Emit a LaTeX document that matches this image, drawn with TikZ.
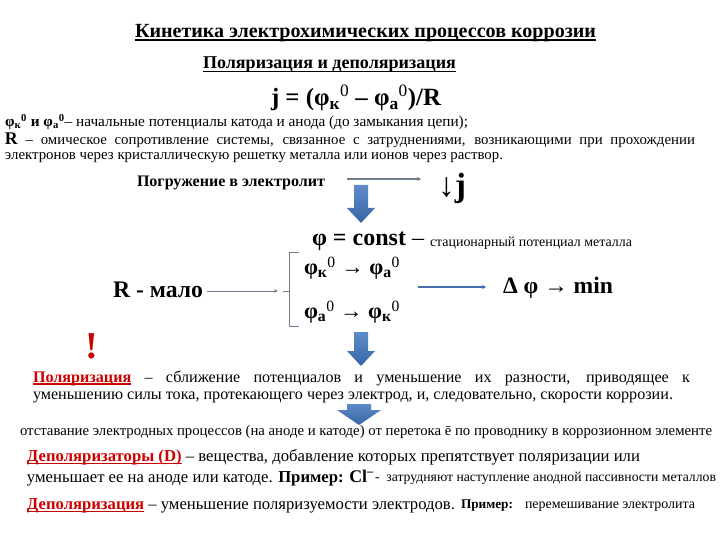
\documentclass[tikz,border=0pt]{standalone}
\usepackage{fontspec}
\setmainfont{Liberation Serif}
\usepackage{graphicx}
\usetikzlibrary{arrows.meta}
\definecolor{polred}{RGB}{204,0,0}
\definecolor{bluetop}{RGB}{95,140,200}
\definecolor{bluebot}{RGB}{55,100,165}
\definecolor{thingray}{RGB}{110,125,140}
\definecolor{arrblue}{RGB}{70,110,170}
\newlength\natw
\newsavebox\ulbox
\newcommand\myul[1]{\sbox\ulbox{#1}\rlap{\rule[-0.16em]{\wd\ulbox}{0.07em}}\usebox\ulbox}
\newcommand\fnt[1]{\fontsize{#1}{#1}\selectfont}
\newcommand\redul[1]{{\color{polred}\bfseries\myul{#1}}}
\newcommand\setscale[3]{\settowidth\natw{\normalfont#3}\pgfmathsetmacro\tmpscale{#2/\the\natw}\global\let#1\tmpscale}
\newcommand\jline[3]{\pgfmathsetlength\natw{#2/#1}\scalebox{#1}{\makebox[\natw][s]{#3}}}
\newcommand\Rthree{\fnt{15}электронов через кристаллическую решетку металла или ионов через раствор.}
\newcommand\Ptwo{\fnt{15}уменьшению силы тока, протекающего через электрод, и, следовательно, скорости коррозии.}
\newcommand\Done{\fnt{15}\redul{Деполяризаторы (D)} – вещества, добавление которых препятствует поляризации или}
\AtBeginDocument{%
\setscale\sR{498}{\Rthree}%
\setscale\sP{640}{\Ptwo}%
\setscale\sD{613}{\Done}}
\tikzset{
 txt/.style={anchor=west, inner sep=0pt, outer sep=0pt},
 thinarr/.style={draw=thingray, line width=0.8pt, -{Stealth[length=4pt,width=3.5pt]}},
 midarr/.style={draw=thingray, line width=1.2pt, -{Stealth[length=4pt,width=4pt]}},
 bluearr/.style={draw=arrblue, line width=1.6pt, -{Stealth[length=4pt,width=4pt]}},
 brk/.style={draw=thingray, line width=0.8pt},
 barrow/.style={top color=bluetop, bottom color=bluebot, draw=none},
}
\begin{document}
\begin{tikzpicture}[x=1pt,y=-1pt]
\useasboundingbox (0,0) rectangle (720,540);
\fill[white] (0,0) rectangle (720,540);
% header
\node[txt] (title) at (135,33) {\resizebox{461pt}{!}{\fnt{19}\bfseries\myul{Кинетика электрохимических процессов коррозии}}};
\node[txt] (sub) at (203,65) {\resizebox{253pt}{!}{\fnt{16}\bfseries\myul{Поляризация и деполяризация}}};
\node[txt] (formula) at (271,98) {\resizebox{170pt}{!}{\fnt{24}\bfseries j = (φ\textsubscript{к}\textsuperscript{\mdseries 0} – φ\textsubscript{а}\textsuperscript{\mdseries 0})/R}};
\node[txt] (l1) at (5,122) {\resizebox{463pt}{!}{\fnt{15}\textbf{φ\textsubscript{к}\textsuperscript{0} и φ\textsubscript{а}\textsuperscript{0}}– начальные потенциалы катода и анода (до замыкания цепи);}};
\node[txt] (l2) at (5,140) {\jline{\sR}{690}{\fnt{15}{\fnt{18}\textbf{R}} – омическое сопротивление системы, связанное с затруднениями, возникающими при прохождении}};
\node[txt] (l3) at (5,158) {\scalebox{\sR}{\Rthree}};
% immersion
\node[txt] (pogr) at (137,183) {\resizebox{188pt}{!}{\fnt{15}\bfseries Погружение в электролит}};
\coordinate (t1) at (347,179);
\coordinate (t2) at (421,179);
\draw[midarr] (t1) -- (t2);
\node[txt] (dj) at (438,188) {\resizebox{28pt}{!}{\fnt{24}↓\textbf{j}}};
\coordinate (ba1) at (361,185);
\shade[barrow] (ba1) ++(-7,0) -- ++(14,0) -- ++(0,23) -- ++(7,0) -- ++(-14,15) -- ++(-14,-15) -- ++(7,0) -- cycle;
% phi const
\node[txt] (phic) at (312,241) {\resizebox{112pt}{!}{\fnt{24}\textbf{φ = const} –}};
\node[txt] (stat) at (430,243) {\resizebox{202pt}{!}{\fnt{13}стационарный потенциал металла}};
\node[txt] (pka) at (304,268) {\resizebox{96pt}{!}{\fnt{22}\textbf{φ\textsubscript{к}}\textsuperscript{0} → \textbf{φ\textsubscript{а}}\textsuperscript{0}}};
\node[txt] (pak) at (304,312) {\resizebox{96pt}{!}{\fnt{22}\textbf{φ\textsubscript{а}}\textsuperscript{0} → \textbf{φ\textsubscript{к}}\textsuperscript{0}}};
\node[txt] (rmalo) at (113,290) {\resizebox{90pt}{!}{\fnt{22}\bfseries R - мало}};
\draw[brk] (299,252) -- (289,252) -- (289,326) -- (299,326);
\coordinate (brmid) at (283,291);
\draw[brk] (289,291) -- (brmid);
\coordinate (ra2) at (278,291);
\draw[thinarr] ([xshift=4pt,yshift=-1pt]rmalo.east) -- (ra2);
\coordinate (d1) at (418,287);
\coordinate (d2) at (486,287);
\draw[bluearr] (d1) -- (d2);
\node[txt] (dphi) at (503,288) {\resizebox{110pt}{!}{\fnt{22}\textbf{Δ φ} → \textbf{min}}};
\node[inner sep=0pt] (excl) at (92,346) {\fnt{38}\color{polred}\textbf{!}};
\coordinate (ba2) at (361,332);
\shade[barrow] (ba2) ++(-7,0) -- ++(14,0) -- ++(0,19) -- ++(7,0) -- ++(-14,15) -- ++(-14,-15) -- ++(7,0) -- cycle;
% polarisation
\node[txt] (p1) at (33,378) {\jline{\sP}{657}{\fnt{15}\redul{Поляризация} – сближение потенциалов и уменьшение их разности, приводящее к}};
\node[txt] (p2) at (33,397) {\scalebox{\sP}{\Ptwo}};
\coordinate (ba3) at (359,404);
\shade[barrow] (ba3) ++(-12,0) -- ++(24,0) -- ++(0,6) -- ++(10,0) -- ++(-22,15) -- ++(-22,-15) -- ++(10,0) -- cycle;
\node[txt] (lag) at (20,432) {\resizebox{692pt}{!}{\fnt{13}отставание электродных процессов (на аноде и катоде) от перетока ē по проводнику в коррозионном элементе}};
% depolarisers
\node[txt] (d1t) at (27,457) {\scalebox{\sD}{\Done}};
\node[txt] (d2t) at (27,478) {\scalebox{\sD}{\fnt{15}уменьшает ее на аноде или катоде. \textbf{Пример: {\fnt{16}Cl\textsuperscript{–}}}}};
\node[txt] (d2s) at (375,478) {\resizebox{341pt}{!}{\fnt{13}- \ затрудняют наступление анодной пассивности металлов}};
\node[txt] (dep) at (27,506) {\resizebox{428pt}{!}{\fnt{15}\redul{Деполяризация} – уменьшение поляризуемости электродов.}};
\node[txt] (ex) at (461,506) {\resizebox{52pt}{!}{\fnt{13}\textbf{Пример:}}};
\node[txt] (mix) at (525,507) {\resizebox{170pt}{!}{\fnt{13}перемешивание электролита}};
\end{tikzpicture}
\end{document}
